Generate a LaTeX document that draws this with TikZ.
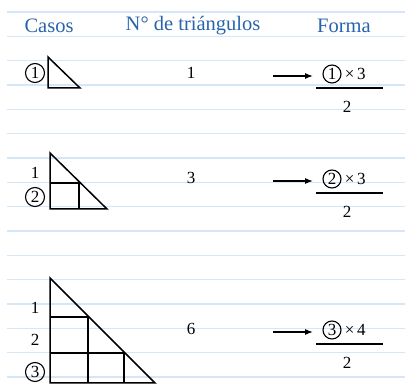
\documentclass[tikz,border=0pt]{standalone}
\usepackage{fontspec}
\setmainfont{Liberation Serif}
\usetikzlibrary{positioning,arrows.meta}
\definecolor{headblue}{RGB}{40,100,172}
\definecolor{ruleblue}{RGB}{212,230,248}
\tikzset{
  head/.style={text=headblue,font=\fontsize{20.5}{24}\selectfont},
  num/.style={font=\fontsize{17}{20}\selectfont,inner sep=0pt},
  circnum/.style={num,draw,circle,minimum size=19pt,line width=1.1pt},
  tri/.style={line width=1.5pt,line join=miter},
}
\begin{document}
\begin{tikzpicture}[x=1pt,y=-1pt]
\useasboundingbox (0,0) rectangle (405,390);
% ruled background
\foreach \i in {0,...,15}{\draw[ruleblue,line width=1.3pt] (7,12+24.33*\i) -- (405,12+24.33*\i);}
% header
\node[head] (hcasos) at (49,26) {Casos};
\node[head] (hnum) at (193,26) {N° de triángulos};
\node[head] (hforma) at (344,26) {Forma};
% case 1
\draw[tri] (48,57)--(48,88)--(80,88)--cycle;
\node[circnum] (c1) at (35,73) {1};
% case 2
\draw[tri] (50,153)--(50,209)--(107,209)--cycle;
\draw[tri] (50,183)--(80,183) (79,183)--(79,209);
\node[num] (l21) at (35,173) {1};
\node[circnum] (c2) at (35,197) {2};
% case 3
\draw[tri] (50,278)--(50,383)--(155,383)--cycle;
\draw[tri] (50,317)--(89,317) (50,353)--(125,353);
\draw[tri] (88,317)--(88,383) (124,353)--(124,383);
\node[num] (l31) at (35,308) {1};
\node[num] (l32) at (35,340) {2};
\node[circnum] (c3) at (35,372) {3};
% counts and forms
\foreach \n/\y/\m/\k in {1/74/1/3,2/179/3/3,3/330/6/4}{
  \node[num] (t\n) at (191,\y-1) {\m};
  \coordinate (as\n) at (273,\y+2);
  \coordinate (ae\n) at (313,\y+2);
  \draw[line width=1.1pt,-{Latex[length=8pt,width=6pt]}] (as\n) -- (ae\n);
  \node[circnum,minimum size=18pt] (f\n) at (332,\y) {\n};
  \node[num,right=3pt of f\n] (k\n) {×\,\k};
  \draw[line width=1.3pt] (316,\y+14) -- (383,\y+14);
  \node[num] (d\n) at (347,\y+33) {2};
}
\end{tikzpicture}
\end{document}
